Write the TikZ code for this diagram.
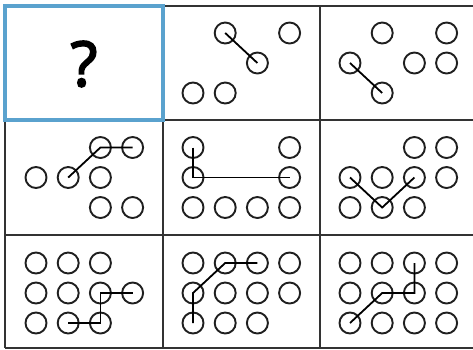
\documentclass[tikz,border=0pt]{standalone}
\usepackage{fontspec}
\newfontfamily\qfont[FakeBold=3]{Open Sans}
\tikzset{
  dot/.style={circle,draw=black!88,line width=1.9pt,minimum size=21pt,inner sep=0pt},
  link/.style={draw=black,line width=1.8pt},
  gridline/.style={draw=black!80,line width=2.2pt},
  qbox/.style={draw={rgb,255:red,90;green,162;blue,206},line width=4pt},
}
\newcommand\mkcell[4]{%
  \foreach \c/\r in {#4} {\node[dot] (#1\c\r) at ({#2+32.2*\c},{#3+30*\r}) {};}}
\begin{document}
\begin{tikzpicture}[x=1pt,y=-1pt]
\useasboundingbox (0,0) rectangle (473,349);
\clip (0,0) rectangle (473,349);
% grid
\draw[gridline] (5,6) -- (480,6);
\draw[gridline] (5,120) -- (480,120);
\draw[gridline] (5,235) -- (480,235);
\draw[gridline] (5,348) -- (480,348);
\draw[gridline] (5,6) -- (5,348);
\draw[gridline] (163,6) -- (163,348);
\draw[gridline] (320,6) -- (320,348);
% question cell
\draw[qbox] (5,6) rectangle (163,120);
\node (q) at (84,64) {\qfont\fontsize{62}{62}\selectfont ?};
% row 0
\mkcell{a}{193}{33}{1/0,3/0,2/1,0/2,1/2}
\draw[link] (a10.center) -- (a21.center);
\mkcell{b}{350}{33}{1/0,3/0,0/1,2/1,3/1,1/2}
\draw[link] (b01.center) -- (b12.center);
% row 1
\mkcell{c}{36}{147.5}{2/0,3/0,0/1,1/1,2/1,2/2,3/2}
\draw[link] (c11.center) -- (c20.center) -- (c30.center);
\mkcell{d}{193}{147.5}{0/0,3/0,0/1,3/1,0/2,1/2,2/2,3/2}
\draw[link] (d00.center) -- (d01.center) -- (d31.center);
\mkcell{e}{350}{147.5}{2/0,3/0,0/1,1/1,2/1,3/1,0/2,1/2,2/2}
\draw[link] (e01.center) -- (e12.center) -- (e21.center);
% row 2
\mkcell{f}{36}{263}{0/0,1/0,2/0,0/1,1/1,2/1,3/1,0/2,1/2,2/2}
\draw[link] (f31.center) -- (f21.center) -- (f22.center) -- (f12.center);
\mkcell{g}{193}{263}{0/0,1/0,2/0,3/0,0/1,1/1,2/1,3/1,0/2,1/2,2/2}
\draw[link] (g02.center) -- (g01.center) -- (g10.center) -- (g20.center);
\mkcell{h}{350}{263}{0/0,1/0,2/0,3/0,0/1,1/1,2/1,3/1,0/2,1/2,2/2,3/2}
\draw[link] (h20.center) -- (h21.center) -- (h11.center) -- (h02.center);
\end{tikzpicture}
\end{document}
